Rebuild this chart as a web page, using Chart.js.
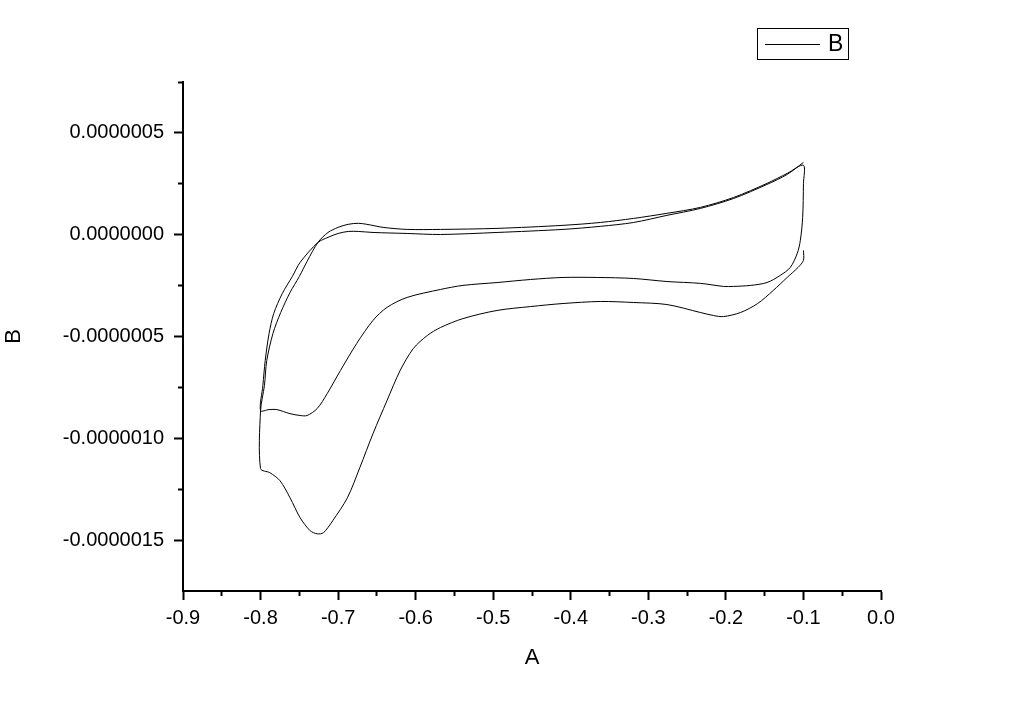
<!DOCTYPE html>
<html>
<head>
<meta charset="utf-8">
<script src="https://cdn.jsdelivr.net/npm/chart.js@4/dist/chart.umd.min.js"></script>
<style>
  html, body { margin: 0; padding: 0; background: #fff; }
  #wrap { width: 1024px; height: 710px; }
</style>
</head>
<body>
<div id="wrap"><canvas id="myChart" width="1024" height="710"></canvas></div>
<script>
// cyclic voltammogram, traced in scan order (A = potential, B = current)
// first sweep down from -0.1 to -0.8
let sweep1A = [-0.100, -0.100, -0.107, -0.121, -0.139, -0.159, -0.181, -0.203, -0.216, -0.233,
  -0.276, -0.319, -0.362, -0.410, -0.452, -0.495, -0.539, -0.568, -0.585,
  -0.603, -0.620, -0.637, -0.655, -0.672, -0.688, -0.707, -0.719, -0.727, -0.736,
  -0.749, -0.762, -0.775, -0.788, -0.800];
let sweep1B = [-0.77e-7, -1.26e-7, -1.61e-7, -2.10e-7, -2.74e-7, -3.38e-7, -3.82e-7, -4.02e-7, -3.97e-7, -3.82e-7,
  -3.43e-7, -3.33e-7, -3.28e-7, -3.38e-7, -3.53e-7, -3.72e-7, -4.12e-7, -4.56e-7, -4.95e-7,
  -5.59e-7, -6.67e-7, -8.15e-7, -9.77e-7, -11.44e-7, -12.92e-7, -14.05e-7, -14.64e-7, -14.69e-7, -14.54e-7,
  -13.90e-7, -12.92e-7, -12.08e-7, -11.69e-7, -11.49e-7];

// first sweep back up to -0.1
let sweep2A = [-0.800, -0.795, -0.792, -0.784, -0.774, -0.762, -0.750, -0.740, -0.726, -0.713,
  -0.700, -0.687, -0.674, -0.663, -0.642, -0.611, -0.568, -0.495, -0.410, -0.362,
  -0.319, -0.276, -0.233, -0.190, -0.147, -0.121, -0.100];
let sweep2B = [-8.64e-7, -7.41e-7, -6.18e-7, -4.85e-7, -3.82e-7, -2.84e-7, -2.05e-7, -1.31e-7, -0.38e-7, 0.11e-7,
  0.36e-7, 0.51e-7, 0.56e-7, 0.51e-7, 0.36e-7, 0.26e-7, 0.26e-7, 0.31e-7, 0.46e-7, 0.60e-7,
  0.80e-7, 1.05e-7, 1.34e-7, 1.83e-7, 2.52e-7, 3.01e-7, 3.41e-7];

// second sweep down
let sweep3A = [-0.100, -0.101, -0.104, -0.108, -0.117, -0.130, -0.147, -0.168, -0.190, -0.203,
  -0.233, -0.276, -0.319, -0.366, -0.410, -0.452, -0.495, -0.539, -0.568, -0.611,
  -0.637, -0.655, -0.676, -0.697, -0.714, -0.727, -0.740, -0.749, -0.762, -0.779,
  -0.789, -0.800];
let sweep3B = [2.52e-7, 0.85e-7, -0.28e-7, -0.92e-7, -1.61e-7, -2.00e-7, -2.35e-7, -2.49e-7, -2.54e-7, -2.54e-7,
  -2.39e-7, -2.30e-7, -2.15e-7, -2.10e-7, -2.10e-7, -2.20e-7, -2.35e-7, -2.49e-7, -2.69e-7, -3.08e-7,
  -3.57e-7, -4.21e-7, -5.34e-7, -6.67e-7, -7.80e-7, -8.54e-7, -8.88e-7, -8.88e-7, -8.79e-7, -8.59e-7,
  -8.59e-7, -8.64e-7];

// second sweep back up
let sweep4A = [-0.797, -0.794, -0.789, -0.783, -0.772, -0.759, -0.749, -0.726, -0.713, -0.700,
  -0.687, -0.674, -0.655, -0.611, -0.568, -0.495, -0.410, -0.362, -0.319, -0.276,
  -0.233, -0.190, -0.147, -0.121, -0.100];
let sweep4B = [-7.41e-7, -6.18e-7, -4.85e-7, -3.87e-7, -2.89e-7, -2.05e-7, -1.36e-7, -0.38e-7, -0.13e-7, 0.06e-7,
  0.16e-7, 0.16e-7, 0.11e-7, 0.06e-7, 0.01e-7, 0.11e-7, 0.26e-7, 0.41e-7, 0.60e-7, 0.95e-7,
  1.29e-7, 1.78e-7, 2.47e-7, 2.96e-7, 3.55e-7];

// axis ticks
let xTicks = [-0.9, -0.8, -0.7, -0.6, -0.5, -0.4, -0.3, -0.2, -0.1, 0.0];
let xTickLabels = ['-0.9', '-0.8', '-0.7', '-0.6', '-0.5', '-0.4', '-0.3', '-0.2', '-0.1', '0.0'];
let xMinorTicks = [-0.85, -0.75, -0.65, -0.55, -0.45, -0.35, -0.25, -0.15, -0.05];
let yTicks = [-1.5e-6, -1.0e-6, -0.5e-6, 0, 0.5e-6];
let yTickLabels = ['-0.0000015', '-0.0000010', '-0.0000005', '0.0000000', '0.0000005'];
let yMinorTicks = [-1.25e-6, -0.75e-6, -0.25e-6, 0.25e-6, 0.75e-6];

let allA = sweep1A.concat(sweep2A, sweep3A, sweep4A);
let allB = sweep1B.concat(sweep2B, sweep3B, sweep4B);
let points = allA.map((a, i) => ({ x: a, y: allB[i] }));

const FONT = '"Liberation Sans", Arial, sans-serif';

// Origin-style boxed legend above the plot
const legendBox = {
  id: 'legendBox',
  afterDraw(chart) {
    const ctx = chart.ctx;
    const ca = chart.chartArea;
    const left = ca.right - 124, top = ca.top - 54;
    ctx.save();
    ctx.strokeStyle = '#000';
    ctx.lineWidth = 1;
    ctx.strokeRect(left + 0.5, top + 0.5, 91, 31);
    ctx.beginPath();
    ctx.moveTo(left + 8, top + 16.5);
    ctx.lineTo(left + 63, top + 16.5);
    ctx.stroke();
    ctx.fillStyle = '#000';
    ctx.font = '23px ' + FONT;
    ctx.textBaseline = 'middle';
    ctx.fillText(chart.data.datasets[0].label, left + 71, top + 17);
    ctx.restore();
  }
};

let myChart = document.getElementById('myChart').getContext('2d');

let chart = new Chart(myChart, {
  type: 'scatter',
  data: {
    datasets: [{
      label: 'B',
      data: points,
      showLine: true,
      borderColor: '#000',
      borderWidth: 1,
      pointRadius: 0,
      tension: 0.3,
      fill: false
    }]
  },
  options: {
    responsive: false,
    animation: false,
    layout: { padding: { top: 82, right: 143, left: 0, bottom: 0 } },
    plugins: {
      legend: { display: false },
      tooltip: { enabled: false }
    },
    scales: {
      x: {
        type: 'linear', position: 'bottom', weight: 1,
        min: -0.9, max: 0.0,
        afterBuildTicks: (s) => { s.ticks = xTicks.map(v => ({ value: v })); },
        afterFit: (s) => { s.height = 119; },
        ticks: {
          autoSkip: false, maxRotation: 0, padding: 6, color: '#000',
          font: { family: FONT, size: 20 },
          callback: (v, i) => xTickLabels[i]
        },
        grid: { drawOnChartArea: false, tickLength: 9, tickWidth: 2, tickColor: '#000' },
        border: { display: true, color: '#000', width: 2 },
        title: { display: true, text: 'A', color: '#000', font: { family: FONT, size: 22 }, padding: { top: 0, bottom: 39 } }
      },
      xMinor: {
        type: 'linear', position: 'bottom', weight: 0,
        min: -0.9, max: 0.0,
        afterBuildTicks: (s) => { s.ticks = xMinorTicks.map(v => ({ value: v })); },
        afterFit: (s) => { s.height = 0; },
        ticks: { display: false },
        grid: { drawOnChartArea: false, tickLength: 5, tickWidth: 2, tickColor: '#000' },
        border: { display: false }
      },
      y: {
        type: 'linear', position: 'left', weight: 1,
        min: -1.75e-6, max: 0.75e-6,
        afterBuildTicks: (s) => { s.ticks = yTicks.map(v => ({ value: v })); },
        afterFit: (s) => { s.width = 183; },
        ticks: {
          autoSkip: false, padding: 10, color: '#000',
          font: { family: FONT, size: 20 },
          callback: (v, i) => yTickLabels[i]
        },
        grid: { drawOnChartArea: false, tickLength: 9, tickWidth: 2, tickColor: '#000' },
        border: { display: true, color: '#000', width: 2 },
        title: { display: true, text: 'B', color: '#000', font: { family: FONT, size: 22 }, padding: { top: 1, bottom: 0 } }
      },
      yMinor: {
        type: 'linear', position: 'left', weight: 0,
        min: -1.75e-6, max: 0.75e-6,
        afterBuildTicks: (s) => { s.ticks = yMinorTicks.map(v => ({ value: v })); },
        afterFit: (s) => { s.width = 0; },
        ticks: { display: false },
        grid: { drawOnChartArea: false, tickLength: 5, tickWidth: 2, tickColor: '#000' },
        border: { display: false }
      }
    }
  },
  plugins: [legendBox]
});
</script>
</body>
</html>
